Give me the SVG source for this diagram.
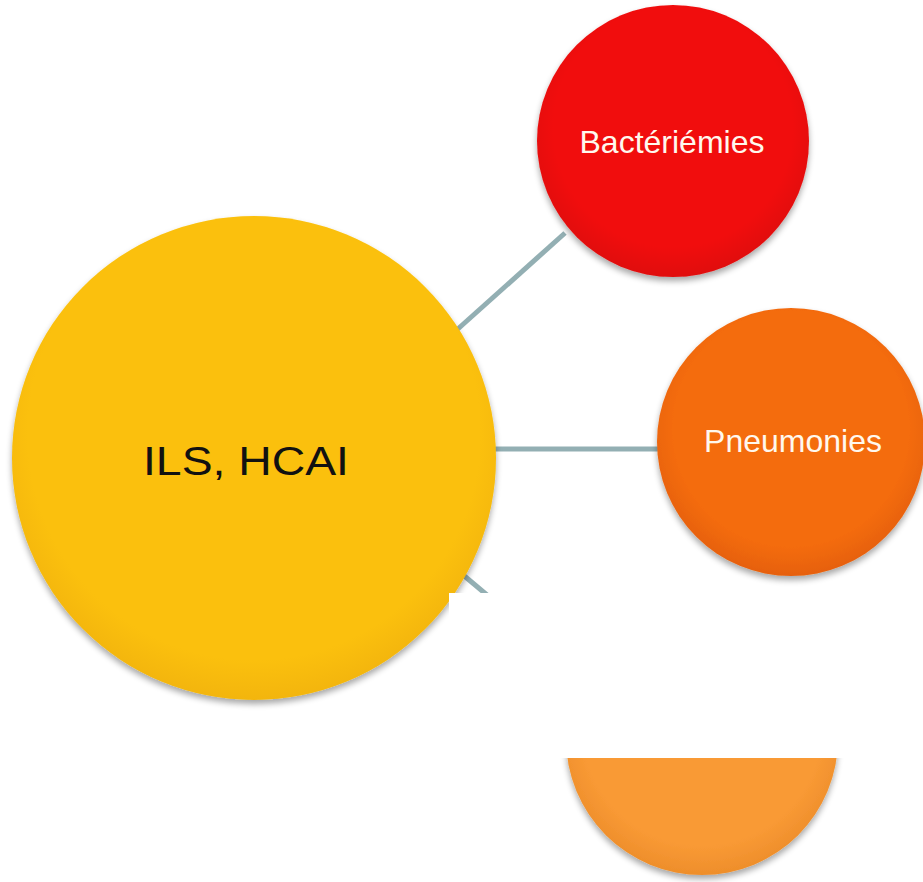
<svg xmlns="http://www.w3.org/2000/svg" width="923" height="882" viewBox="0 0 923 882">
<defs>
<filter id="sh" x="-20%" y="-20%" width="140%" height="140%">
<feGaussianBlur in="SourceAlpha" stdDeviation="3"/>
<feOffset dx="0" dy="4" result="b"/>
<feComponentTransfer><feFuncA type="linear" slope="0.35"/></feComponentTransfer>
<feMerge><feMergeNode/><feMergeNode in="SourceGraphic"/></feMerge>
</filter>
<radialGradient id="gy" cx="50%" cy="45%" r="55%">
<stop offset="0.85" stop-color="#FBC00A"/><stop offset="1" stop-color="#F3B508"/>
</radialGradient>
<radialGradient id="gr" cx="50%" cy="45%" r="55%">
<stop offset="0.8" stop-color="#F10F0F"/><stop offset="1" stop-color="#E00A0A"/>
</radialGradient>
<radialGradient id="go" cx="50%" cy="45%" r="55%">
<stop offset="0.8" stop-color="#F46C10"/><stop offset="1" stop-color="#E6600A"/>
</radialGradient>
<radialGradient id="gb" cx="50%" cy="45%" r="55%">
<stop offset="0.8" stop-color="#F99A35"/><stop offset="1" stop-color="#EE8E2B"/>
</radialGradient>
</defs>
<style>
.con{stroke:#93AFB3;stroke-width:5;fill:none}
.lbl{font-family:"Liberation Sans",Arial,sans-serif;text-anchor:middle}
.w{fill:#FFF8EE}
</style>
<g id="connectors">
<line class="con" x1="450" y1="336" x2="565" y2="233"/>
<line class="con" x1="490" y1="449" x2="665" y2="449"/>
<line class="con" x1="462" y1="574" x2="600" y2="690"/>
</g>
<g id="node-bottom">
<circle cx="702" cy="739" r="136" fill="url(#gb)" filter="url(#sh)"/>
</g>
<g id="node-ils">
<circle cx="254" cy="458" r="242" fill="url(#gy)" filter="url(#sh)"/>
<text class="lbl" x="246" y="475" font-size="40" fill="#111" textLength="206" lengthAdjust="spacingAndGlyphs">ILS, HCAI</text>
</g>
<g id="mask">
<rect x="449" y="593" width="474" height="165" fill="#FFFFFF"/>
</g>
<g id="node-bact">
<circle cx="673" cy="141" r="136" fill="url(#gr)" filter="url(#sh)"/>
<text class="lbl w" x="672" y="153" font-size="32">Bactériémies</text>
</g>
<g id="node-pneu">
<circle cx="791" cy="442" r="134" fill="url(#go)" filter="url(#sh)"/>
<text class="lbl w" x="793" y="452" font-size="32">Pneumonies</text>
</g>
</svg>
